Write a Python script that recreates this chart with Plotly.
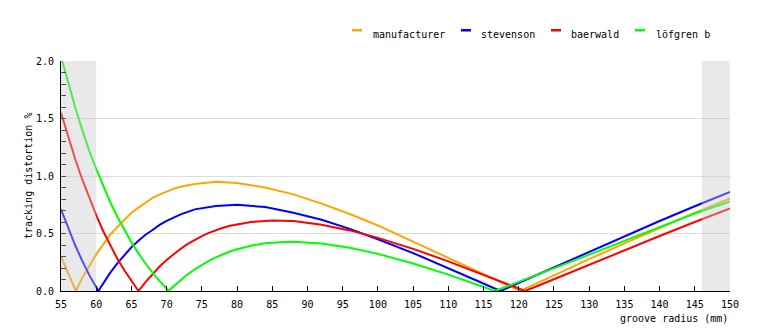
import plotly.graph_objects as go

# ---- data ----
manufacturer_r = [55, 56, 57.1, 58, 59, 60, 61, 62, 63, 64, 65, 66, 67, 68, 69, 70, 71, 72, 74, 77, 80, 84, 88, 92, 96, 100, 105, 110, 115, 118, 120.2, 122, 125, 130, 135, 140, 145, 150]
manufacturer_d = [0.30, 0.15, 0.0, 0.11, 0.219, 0.32, 0.406, 0.49, 0.557, 0.620, 0.68, 0.725, 0.769, 0.81, 0.838, 0.866, 0.89, 0.907, 0.93, 0.95, 0.94, 0.90, 0.84, 0.76, 0.67, 0.57, 0.43, 0.29, 0.15, 0.063, 0.0, 0.051, 0.137, 0.277, 0.414, 0.549, 0.679, 0.806]

stevenson_r = [55, 56, 57, 58, 59, 60.3, 61, 62, 63, 64, 65, 66, 67, 68, 69, 70, 71, 72, 74, 77, 80, 84, 88, 92, 96, 100, 105, 110, 114, 117.4, 120, 125, 130, 135, 140, 145, 150]
stevenson_d = [0.71, 0.547, 0.40, 0.264, 0.14, 0.0, 0.069, 0.16, 0.241, 0.314, 0.38, 0.437, 0.489, 0.53, 0.575, 0.610, 0.64, 0.666, 0.71, 0.74, 0.75, 0.73, 0.68, 0.62, 0.54, 0.45, 0.33, 0.20, 0.091, 0.0, 0.07, 0.209, 0.345, 0.478, 0.609, 0.737, 0.861]

baerwald_r = [55, 56, 57, 58, 59, 60, 61, 62, 63, 64, 65, 66, 67, 68, 69, 70, 71, 72, 73, 74, 75, 76, 77, 78, 79, 82, 85, 88, 92, 96, 100, 105, 110, 115, 118, 120.9, 123, 125, 130, 135, 140, 145, 150]
baerwald_d = [1.55, 1.345, 1.15, 0.972, 0.81, 0.660, 0.52, 0.398, 0.28, 0.181, 0.086, 0.0, 0.078, 0.15, 0.213, 0.27, 0.322, 0.368, 0.41, 0.445, 0.477, 0.505, 0.529, 0.550, 0.567, 0.60, 0.614, 0.608, 0.577, 0.527, 0.462, 0.366, 0.258, 0.142, 0.070, 0.0, 0.052, 0.103, 0.228, 0.354, 0.478, 0.600, 0.719]

lofgren_r = [55, 56, 57, 58, 59, 60, 61, 62, 63, 64, 65, 66, 67, 68.5, 69, 70.3, 71, 72, 73, 74, 75, 76, 77, 78, 79, 80, 82, 84, 86, 88, 92, 96, 100, 105, 110, 114, 116.6, 119, 122, 125, 130, 135, 140, 145, 150]
lofgren_d = [2.04, 1.81, 1.60, 1.403, 1.22, 1.061, 0.91, 0.772, 0.646, 0.530, 0.424, 0.327, 0.239, 0.121, 0.085, 0.0, 0.041, 0.096, 0.145, 0.189, 0.228, 0.262, 0.293, 0.320, 0.343, 0.363, 0.394, 0.415, 0.425, 0.428, 0.413, 0.376, 0.323, 0.239, 0.142, 0.057, 0.0, 0.055, 0.125, 0.196, 0.316, 0.436, 0.556, 0.674, 0.778]

series_names = ["manufacturer", "stevenson", "baerwald", "löfgren b"]
series_colors = ["#FFA500", "#0000FF", "#FF0000", "#00FF00"]
series_x = [manufacturer_r, stevenson_r, baerwald_r, lofgren_r]
series_y = [manufacturer_d, stevenson_d, baerwald_d, lofgren_d]

shade_ranges = [(55, 60), (146, 150)]
x_ticks = list(range(55, 151, 5))
y_ticks = [0.0, 0.5, 1.0, 1.5, 2.0]

FONT = "DejaVu Sans Mono"

fig = go.Figure()
for name, col, xs, ys in zip(series_names, series_colors, series_x, series_y):
    fig.add_trace(go.Scatter(x=xs, y=ys, mode="lines", name=name,
                             line=dict(color=col, width=2), showlegend=False))

# shaded (unplayable) regions drawn over the lines
for x0, x1 in shade_ranges:
    fig.add_shape(type="rect", xref="x", yref="y", x0=x0, x1=x1, y0=0, y1=2,
                  fillcolor="rgba(200,200,200,0.4)", line=dict(width=0), layer="above")

# plot area geometry in pixels (for placing the custom legend)
W, H = 760, 330
L, R, T, B = 61, 30, 61, 39
pw, ph = W - L - R, H - T - B

def px(xp):
    return (xp - L) / pw

def py(yp):
    return (H - B - yp) / ph

legend_bar_x = [352, 461, 551, 635]
legend_text_x = [371, 479, 569, 654]
for name, col, bx, tx in zip(series_names, series_colors, legend_bar_x, legend_text_x):
    fig.add_shape(type="rect", xref="paper", yref="paper",
                  x0=px(bx), x1=px(bx + 10), y0=py(31.5), y1=py(29),
                  fillcolor=col, line=dict(width=0))
    fig.add_annotation(x=px(tx), y=py(34), xref="paper", yref="paper",
                       text=name, showarrow=False, xanchor="left", yanchor="middle",
                       font=dict(family=FONT, size=10, color="#000"))

fig.add_annotation(x=px(28), y=0.5, xref="paper", yref="paper",
                   text="tracking distortion %", textangle=-90, showarrow=False,
                   xanchor="center", yanchor="middle",
                   font=dict(family=FONT, size=10, color="#000"))
fig.add_annotation(x=1.0, y=py(318.5), xref="paper", yref="paper",
                   text="groove radius (mm)", showarrow=False,
                   xanchor="right", yanchor="middle",
                   font=dict(family=FONT, size=10, color="#000"))

fig.update_layout(
    width=W, height=H,
    margin=dict(l=L, r=R, t=T, b=B, pad=0),
    paper_bgcolor="white", plot_bgcolor="white",
    font=dict(family=FONT, size=10, color="#000"),
    showlegend=False,
    xaxis=dict(range=[55, 150], tickvals=x_ticks, ticks="inside", ticklen=5,
               tickcolor="#000", showline=True, linecolor="#000", linewidth=1,
               showgrid=False, zeroline=False, ticklabelstandoff=4,
               tickfont=dict(family=FONT, size=10, color="#000")),
    yaxis=dict(range=[0, 2], tickvals=y_ticks, tickformat=".1f", ticks="inside",
               ticklen=5, tickcolor="#000", showline=True, linecolor="#000",
               linewidth=1, showgrid=True, gridcolor="#dcdcdc", gridwidth=1,
               zeroline=False, ticklabelstandoff=4,
               minor=dict(dtick=0.1, ticks="inside", ticklen=5, tickcolor="#000",
                          showgrid=False),
               tickfont=dict(family=FONT, size=10, color="#000")),
)

fig.write_html("out.html")
